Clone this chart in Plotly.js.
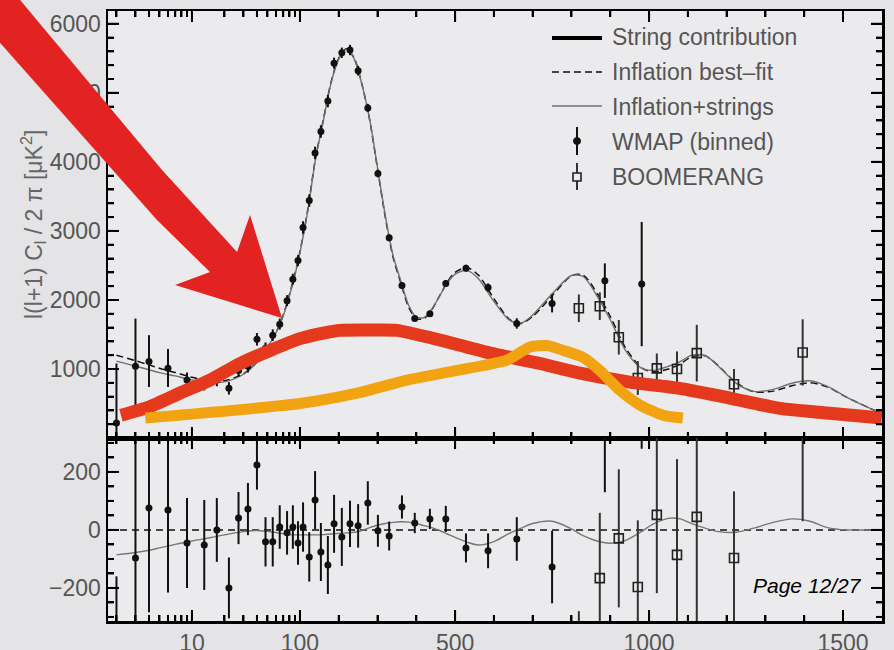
<!DOCTYPE html>
<html>
<head>
<meta charset="utf-8">
<script src="https://cdn.plot.ly/plotly-3.0.1.min.js"></script>
<style>
html,body{margin:0;padding:0;background:#e4e4e6;}
#chart{width:894px;height:650px;}
</style>
</head>
<body>
<div id="chart"></div>
<script>
// ---------------- DATA ----------------
// theory curves (multipole l, D_l in muK^2)
const theoryL = [2,3,4,5,7,10,15,20,30,40,50,60,70,80,90,100,120,140,160,180,200,220,240,260,280,300,320,340,360,380,400,420,440,460,480,500,530,560,600,640,670,700,750,800,830,870,900,940,980,1010,1050,1080,1110,1145,1180,1225,1270,1320,1370,1415,1460,1510,1570,1600];
const bestFit = [1200,1120,1060,1010,950,880,830,830,930,1100,1320,1530,1780,2080,2380,2700,3300,4050,4600,5150,5500,5640,5500,5120,4600,3900,3200,2620,2250,1900,1730,1730,1860,2060,2260,2400,2470,2360,2020,1720,1660,1760,2060,2350,2360,2060,1760,1300,1020,960,1000,1070,1180,1190,1040,800,670,680,760,800,740,590,430,360];
const inflStrings = [1114,1042,990,948,900,842,804,813,924,1098,1315,1521,1767,2064,2363,2683,3283,4033,4584,5136,5488,5630,5492,5118,4608,3916,3222,2646,2278,1927,1752,1745,1868,2058,2246,2374,2428,2308,1980,1708,1666,1782,2090,2354,2340,2020,1714,1264,1014,980,1040,1108,1202,1196,1034,792,676,706,798,830,748,590,430,360];
const residTheory = [-86,-78,-70,-62,-50,-38,-26,-17,-6,-2,-5,-9,-13,-16,-17,-17,-17,-17,-16,-14,-12,-10,-8,-2,8,16,22,26,28,27,22,15,8,-2,-14,-26,-42,-52,-40,-12,6,22,30,4,-20,-40,-46,-36,-6,20,40,38,22,6,-6,-8,6,26,38,30,8,0,0,0];

// WMAP binned
const wmapL = [2,3,4,6,9,13,17,22,27,33,40,48,56,65,76,86,96,108,124,139,154,172,188,208,229,250,275,301,330,363,396,435,476,528,585,659,750,886,981];
const wmapD = [220,1040,1110,1010,840,790,840,720,980,1040,1430,1300,1490,1650,1990,2300,2570,3050,3440,4130,4440,4880,5430,5580,5620,5320,4780,3830,2900,2210,1730,1800,2240,2460,2180,1660,1950,2280,2230];
const wmapErrPlus = [860,690,380,280,110,100,90,90,90,90,90,85,85,80,80,80,80,90,90,90,90,90,80,75,75,70,60,55,50,40,35,35,45,50,60,75,130,250,900];
const wmapErrMinus = [400,590,370,270,190,100,90,90,90,90,90,85,85,80,80,80,80,90,90,90,90,90,80,75,75,70,60,55,50,40,35,35,45,50,60,75,130,250,900];
const wmapRes = [-380,-97,76,69,-45,-52,0,-200,41,72,224,-41,-41,10,-10,10,-45,10,-93,103,-76,-121,21,-24,21,14,93,-3,-21,79,24,38,38,-62,-72,-31,-128,380,1180];
const wmapResErr = [220,420,360,285,155,155,110,105,90,90,85,85,85,75,75,75,75,85,85,100,100,100,100,100,80,75,75,55,50,40,35,35,45,50,60,75,125,250,900];

// BOOMERANG
const boomL = [819,873,922,971,1020,1072,1123,1219,1396];
const boomD = [1880,1910,1460,870,1010,1000,1230,780,1240];
const boomErr = [200,200,250,245,215,255,410,220,480];
const boomRes = [-480,-166,-29,-197,52,-86,45,-97,380];
const boomResErr = [200,225,238,230,270,330,400,230,350];

// overlaid thick curves (red: string contribution, orange)
const redL = [2.2,4,7.7,14.7,28,53,100,160,203,280,350,461,590,719,822,950,1079,1208,1337,1466,1600];
const redD = [330,450,650,840,1080,1270,1440,1520,1560,1565,1560,1420,1230,1080,940,810,720,580,430,360,290];
const orangeL = [3.7,100,247,376,505,634,693,737,778,829,873,925,976,1036,1087];
const orangeD = [290,500,650,840,980,1130,1320,1340,1270,1170,980,690,480,330,290];

// ticks
const xTickL = [10,100,500,1000,1500];
const xTickText = ['10','100','500','1000','1500'];
const xMinorL = [2,3,4,5,6,7,8,9,20,30,40,50,60,70,80,90,200,300,400,600,700,800,900,1100,1200,1300,1400];
const yTopTicks = [1000,2000,3000,4000,5000,6000];
const yTopMinor = [200,400,600,800,1200,1400,1600,1800,2200,2400,2600,2800,3200,3400,3600,3800,4200,4400,4600,4800,5200,5400,5600,5800];
const yBotTicks = [-200,0,200];
const yBotMinor = [-300,-250,-150,-100,-50,50,100,150,250,300];

const legendNames = ['String contribution','Inflation best\u2013fit','Inflation+strings','WMAP (binned)','BOOMERANG'];

// ---------------- AXIS MAPPING (log below l=100, linear above) ----------------
const U = l => (l >= 100 ? l : 100 + 278.4 * Math.log10(l / 100));
const Ua = arr => arr.map(U);

// pixel -> paper helpers for decorations
const L0 = 108, R0 = 882, T0 = 11, B0 = 621, MID = 438;
const PX = x => (x - L0) / (R0 - L0);
const PY = y => (B0 - y) / (B0 - T0);

const FONT = 'Liberation Sans, Arial, Helvetica, sans-serif';
const TXT = '#555555';

const traces = [
  {x: Ua(theoryL), y: bestFit, mode: 'lines', line: {color: '#111', width: 1.5, dash: '7px,4px', shape: 'spline', smoothing: 0.8}, xaxis: 'x', yaxis: 'y', name: legendNames[1]},
  {x: Ua(theoryL), y: inflStrings, mode: 'lines', line: {color: '#707070', width: 1.4, shape: 'spline', smoothing: 0.8}, xaxis: 'x', yaxis: 'y', name: legendNames[2]},
  {x: Ua(wmapL), y: wmapD, mode: 'markers', marker: {symbol: 'circle', size: 7, color: '#111'},
   error_y: {type: 'data', symmetric: false, array: wmapErrPlus, arrayminus: wmapErrMinus, color: '#111', thickness: 2, width: 0},
   xaxis: 'x', yaxis: 'y', name: legendNames[3]},
  {x: Ua(boomL), y: boomD, mode: 'markers', marker: {symbol: 'square-open', size: 9, color: '#222', line: {width: 1.6}},
   error_y: {type: 'data', array: boomErr, color: '#333', thickness: 2, width: 0},
   xaxis: 'x', yaxis: 'y', name: legendNames[4]},
  {x: Ua(redL), y: redD, mode: 'lines', line: {color: '#e5391d', width: 13, shape: 'spline', smoothing: 0.6}, xaxis: 'x', yaxis: 'y', name: legendNames[0]},
  {x: Ua(orangeL), y: orangeD, mode: 'lines', line: {color: '#f1a312', width: 11, shape: 'spline', smoothing: 0.6}, xaxis: 'x', yaxis: 'y', name: 'overlay'},
  {x: Ua(theoryL), y: residTheory, mode: 'lines', line: {color: '#777', width: 1.4, shape: 'spline', smoothing: 0.8}, xaxis: 'x2', yaxis: 'y2', name: 'residual theory'},
  {x: Ua(wmapL), y: wmapRes, mode: 'markers', marker: {symbol: 'circle', size: 7, color: '#111'},
   error_y: {type: 'data', array: wmapResErr, color: '#111', thickness: 2, width: 0}, xaxis: 'x2', yaxis: 'y2', name: 'WMAP res'},
  {x: Ua(boomL), y: boomRes, mode: 'markers', marker: {symbol: 'square-open', size: 9, color: '#222', line: {width: 1.6}},
   error_y: {type: 'data', array: boomResErr, color: '#333', thickness: 2, width: 0}, xaxis: 'x2', yaxis: 'y2', name: 'BOOMERANG res'}
];

const xr = [U(1.67), 1600.5];
const tf = {family: FONT, size: 23, color: TXT};
const xAx = (anchor, labels) => ({
  type: 'linear', range: xr, anchor: anchor, showgrid: false, zeroline: false,
  showline: true, linecolor: '#000', linewidth: 2.5, mirror: 'allticks',
  ticks: 'inside', ticklen: 11, tickwidth: 2, tickcolor: '#000',
  tickmode: 'array', tickvals: Ua(xTickL), ticktext: xTickText, showticklabels: labels,
  minor: {tickmode: 'array', tickvals: Ua(xMinorL), ticks: 'inside', ticklen: 6},
  tickfont: tf, fixedrange: true
});

// arrow polygon (pixel coordinates of the slide decoration)
const arrowPts = [[-5,-5],[16,-5],[162,170],[237,252],[250,215],[282,318],[175,285],[210,272],[157,220],[-5,37]];
const arrowPath = 'M ' + arrowPts.map(p => PX(p[0]).toFixed(4) + ',' + PY(p[1]).toFixed(4)).join(' L ') + ' Z';

const tickLine = {color: '#000', width: 2};
const shapes = [
  // zero line in residual panel
  {type: 'line', xref: 'paper', yref: 'y2', x0: 0, x1: 1, y0: 0, y1: 0, line: {color: '#111', width: 1.5, dash: '7px,5px'}, layer: 'below'}
];
// tick marks on every frame edge (drawn through the axis scales)
const addXTicks = (vals, len) => vals.forEach(l => {
  const u = U(l);
  [[B0, -len], [MID, len], [MID, -len], [T0, len]].forEach(([py, d]) => {
    shapes.push({type: 'line', xref: 'x', yref: 'paper', x0: u, x1: u, y0: PY(py), y1: PY(py + d), line: tickLine});
  });
});
addXTicks(xTickL, 11);
addXTicks(xMinorL, 6);
const addYTicks = (vals, yref, len) => vals.forEach(v => {
  shapes.push({type: 'line', xref: 'paper', yref: yref, x0: 0, x1: PX(L0 + len), y0: v, y1: v, line: tickLine});
  shapes.push({type: 'line', xref: 'paper', yref: yref, x0: 1, x1: PX(R0 - len), y0: v, y1: v, line: tickLine});
});
addYTicks(yTopTicks, 'y', 11);
addYTicks(yTopMinor, 'y', 6);
addYTicks(yBotTicks, 'y2', 11);
addYTicks(yBotMinor, 'y2', 6);

// legend samples
shapes.push(
  {type: 'line', xref: 'paper', yref: 'paper', x0: PX(552), x1: PX(602), y0: PY(38), y1: PY(38), line: {color: '#000', width: 4}},
  {type: 'line', xref: 'paper', yref: 'paper', x0: PX(552), x1: PX(602), y0: PY(72), y1: PY(72), line: {color: '#111', width: 1.5, dash: '7px,4px'}},
  {type: 'line', xref: 'paper', yref: 'paper', x0: PX(552), x1: PX(602), y0: PY(106), y1: PY(106), line: {color: '#707070', width: 1.5}},
  {type: 'line', xref: 'paper', yref: 'paper', x0: PX(577), x1: PX(577), y0: PY(127), y1: PY(155), line: {color: '#111', width: 2}},
  {type: 'circle', xref: 'paper', yref: 'paper', x0: PX(573.5), x1: PX(580.5), y0: PY(137.5), y1: PY(144.5), fillcolor: '#111', line: {color: '#111', width: 1}},
  {type: 'line', xref: 'paper', yref: 'paper', x0: PX(577), x1: PX(577), y0: PY(163), y1: PY(190), line: {color: '#333', width: 2}},
  {type: 'rect', xref: 'paper', yref: 'paper', x0: PX(573), x1: PX(581), y0: PY(173), y1: PY(181), fillcolor: '#ebebed', line: {color: '#222', width: 1.6}},
  // big red arrow
  {type: 'path', xref: 'paper', yref: 'paper', path: arrowPath, fillcolor: '#e32322', line: {width: 0}, layer: 'above'}
);

const legendY = [37, 72, 107, 142, 177];
const annotations = legendNames.map((t, i) => ({
  xref: 'paper', yref: 'paper', x: PX(610), y: PY(legendY[i]), xanchor: 'left', yanchor: 'middle',
  text: t, showarrow: false, font: {family: FONT, size: 23, color: TXT}
}));
annotations.push({
  xref: 'paper', yref: 'paper', x: PX(33), y: PY(225), xanchor: 'center', yanchor: 'middle', textangle: -90,
  text: 'l(l+1) C<sub>l</sub> / 2 \u03c0 [\u03bcK<sup>2</sup>]', showarrow: false, font: {family: FONT, size: 23, color: '#666'}
});
annotations.push({
  xref: 'paper', yref: 'paper', x: PX(751), y: PY(585), xanchor: 'left', yanchor: 'middle',
  text: '<i>Page 12/27</i>', showarrow: false, font: {family: FONT, size: 21, color: '#000'}
});

const layout = {
  width: 894, height: 650,
  margin: {l: L0, r: 894 - R0, t: T0, b: 650 - B0, pad: 0},
  paper_bgcolor: '#e4e4e6', plot_bgcolor: '#ebebed',
  showlegend: false,
  xaxis: xAx('y', false),
  xaxis2: xAx('y2', true),
  yaxis: {
    domain: [0.3, 1], range: [1, 6185], anchor: 'x', showgrid: false, zeroline: false,
    showline: true, linecolor: '#000', linewidth: 2.5, mirror: 'allticks',
    ticks: 'inside', ticklen: 11, tickwidth: 2, tickcolor: '#000', tickmode: 'linear', tick0: 0, dtick: 1000,
    minor: {dtick: 200, ticks: 'inside', ticklen: 6},
    tickfont: tf, fixedrange: true
  },
  yaxis2: {
    domain: [0, 0.3], range: [-314, 317], anchor: 'x2', showgrid: false, zeroline: false,
    showline: true, linecolor: '#000', linewidth: 2.5, mirror: 'allticks',
    ticks: 'inside', ticklen: 11, tickwidth: 2, tickcolor: '#000', tickmode: 'linear', tick0: 0, dtick: 200,
    minor: {dtick: 50, ticks: 'inside', ticklen: 6},
    tickfont: tf, fixedrange: true
  },
  shapes: shapes,
  annotations: annotations
};

Plotly.newPlot('chart', traces, layout, {staticPlot: true});
</script>
</body>
</html>
